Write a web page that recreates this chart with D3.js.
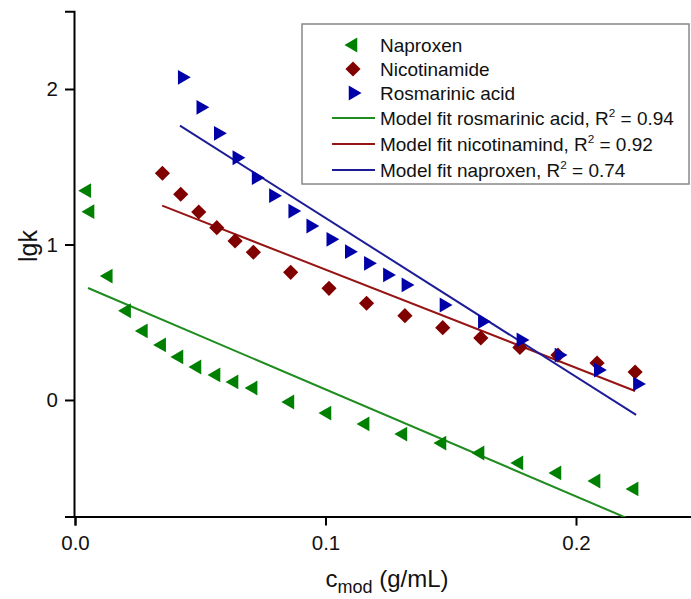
<!DOCTYPE html>
<html>
<head>
<meta charset="utf-8">
<script src="https://cdn.jsdelivr.net/npm/d3@7"></script>
<style>
  html, body { margin: 0; padding: 0; background: #fff; }
  svg { display: block; font-family: "Liberation Sans", Arial, sans-serif; }
</style>
</head>
<body>
<svg id="chart" width="691" height="599"></svg>
<script>
// ---- Data ----
const naproxenX = [0.0047, 0.0060, 0.0133, 0.0206, 0.0273, 0.0346, 0.0415, 0.0487, 0.0563, 0.0635, 0.0711, 0.0858, 0.1006, 0.1158, 0.1309, 0.1465, 0.1617, 0.1772, 0.1924, 0.2080, 0.2232];
const naproxenY = [1.346, 1.211, 0.797, 0.574, 0.444, 0.354, 0.277, 0.212, 0.161, 0.116, 0.077, -0.013, -0.084, -0.154, -0.219, -0.277, -0.341, -0.405, -0.469, -0.521, -0.572];

const nicotinamideX = [0.0349, 0.0422, 0.0494, 0.0566, 0.0639, 0.0712, 0.0861, 0.1014, 0.1164, 0.1317, 0.1468, 0.1620, 0.1776, 0.1928, 0.2084, 0.2236];
const nicotinamideY = [1.458, 1.323, 1.209, 1.108, 1.023, 0.950, 0.821, 0.718, 0.622, 0.542, 0.465, 0.399, 0.338, 0.289, 0.238, 0.180];

const rosmarinicX = [0.0428, 0.0502, 0.0572, 0.0646, 0.0723, 0.0792, 0.0869, 0.0941, 0.1021, 0.1095, 0.1171, 0.1247, 0.1321, 0.1473, 0.1626, 0.1780, 0.1932, 0.2089, 0.2245];
const rosmarinicY = [2.075, 1.882, 1.715, 1.558, 1.430, 1.314, 1.215, 1.119, 1.033, 0.954, 0.879, 0.804, 0.740, 0.611, 0.504, 0.386, 0.289, 0.193, 0.103];

// fitted line end points [x, y]
const fitGreen = [[0.0052, 0.720], [0.2240, -0.785]];
const fitRed   = [[0.0348, 1.250], [0.2236, 0.058]];
const fitBlue  = [[0.0419, 1.764], [0.2240, -0.096]];

const xTicks = [0.0, 0.1, 0.2];
const yTicks = [0, 1, 2];

const legendMarkers = ["Naproxen", "Nicotinamide", "Rosmarinic acid"];
const legendLines = [
  { label: "Model fit rosmarinic acid, R", r2: "0.94" },
  { label: "Model fit nicotinamind, R", r2: "0.92" },
  { label: "Model fit naproxen, R", r2: "0.74" }
];

// ---- Layout ----
const svg = d3.select("#chart");
const x = d3.scaleLinear().domain([0, 0.25]).range([75, 75 + 0.25 * 2505]);
const y = d3.scaleLinear().domain([-0.75, 2.5]).range([516.6, 11.25]);

const C = {
  green: "#008000", greenLine: "#1e8c1e",
  red: "#800000", redLine: "#961414",
  blue: "#0000a8", blueLine: "#1c1c96"
};

svg.append("defs").append("clipPath").attr("id", "plotclip")
  .append("rect").attr("x", 75).attr("y", 11).attr("width", 620).attr("height", 506);

// axes
const xAxis = d3.axisBottom(x).tickValues(xTicks).tickFormat(d3.format(".1f")).tickSizeOuter(0).tickSize(9).tickPadding(6);
const yAxis = d3.axisLeft(y).tickValues(yTicks).tickFormat(d3.format("d")).tickSizeOuter(0).tickSize(9).tickPadding(7);

const gx = svg.append("g").attr("transform", `translate(0,${y(-0.75)})`).call(xAxis);
const gy = svg.append("g").attr("transform", `translate(${x(0) - 1},0)`).call(yAxis);
[gx, gy].forEach(g => {
  g.select(".domain").attr("stroke", "#000").attr("stroke-width", 2);
  g.selectAll(".tick line").attr("stroke", "#000").attr("stroke-width", 2);
  g.selectAll(".tick text").attr("fill", "#111").style("font-size", "20.5px").style("font-family", "Liberation Sans, Arial, sans-serif");
});
gx.selectAll(".tick text").attr("dy", "0.9em");

// axis titles
const xt = svg.append("text").attr("x", 387).attr("y", 587).attr("text-anchor", "middle")
  .style("font-size", "24px").attr("fill", "#111");
xt.append("tspan").text("c");
xt.append("tspan").attr("dy", 6).style("font-size", "18px").text("mod");
xt.append("tspan").attr("dy", -6).text(" (g/mL)");

svg.append("text").attr("transform", "translate(37,246) rotate(-90)").attr("text-anchor", "middle")
  .style("font-size", "25px").attr("fill", "#111").text("lgk");

// fit lines
const line = d3.line().x(d => x(d[0])).y(d => y(d[1]));
const plot = svg.append("g").attr("clip-path", "url(#plotclip)");
[[fitGreen, C.greenLine], [fitRed, C.redLine], [fitBlue, C.blueLine]].forEach(([pts, col]) => {
  plot.append("path").attr("d", line(pts)).attr("fill", "none").attr("stroke", col).attr("stroke-width", 2);
});

// markers
const tri = d3.symbol(d3.symbolTriangle, 95)();
const dia = d3.symbol(d3.symbolSquare, 115)();

svg.append("g").selectAll("path").data(d3.zip(naproxenX, naproxenY)).join("path")
  .attr("d", tri).attr("fill", C.green)
  .attr("transform", d => `translate(${x(d[0])},${y(d[1])}) rotate(-90)`);

svg.append("g").selectAll("path").data(d3.zip(nicotinamideX, nicotinamideY)).join("path")
  .attr("d", dia).attr("fill", C.red)
  .attr("transform", d => `translate(${x(d[0])},${y(d[1])}) rotate(45)`);

svg.append("g").selectAll("path").data(d3.zip(rosmarinicX, rosmarinicY)).join("path")
  .attr("d", tri).attr("fill", C.blue)
  .attr("transform", d => `translate(${x(d[0])},${y(d[1])}) rotate(90)`);

// legend
const lg = svg.append("g");
lg.append("rect").attr("x", 302).attr("y", 24).attr("width", 387).attr("height", 160)
  .attr("fill", "#fff").attr("stroke", "#888").attr("stroke-width", 1.5);

const mShapes = [[tri, C.green, -90], [dia, C.red, 45], [tri, C.blue, 90]];
const mRows = [45, 69, 93];
const legendTexts = [];
legendMarkers.forEach((t, i) => {
  lg.append("path").attr("d", mShapes[i][0]).attr("fill", mShapes[i][1])
    .attr("transform", `translate(353,${mRows[i]}) rotate(${mShapes[i][2]})`);
  legendTexts.push(lg.append("text").attr("x", 380).attr("y", mRows[i]).attr("dy", "0.35em")
    .style("font-size", "19px").attr("fill", "#111").text(t));
});
const lRows = [118, 144, 170];
const lCols = [C.greenLine, C.redLine, C.blueLine];
legendLines.forEach((d, i) => {
  lg.append("line").attr("x1", 332).attr("x2", 375).attr("y1", lRows[i]).attr("y2", lRows[i])
    .attr("stroke", lCols[i]).attr("stroke-width", 2);
  const t = lg.append("text").attr("x", 380).attr("y", lRows[i]).attr("dy", "0.35em")
    .style("font-size", "19px").attr("fill", "#111");
  t.append("tspan").text(d.label);
  t.append("tspan").attr("dy", -8).style("font-size", "12px").attr("class", "sup").text("2");
  t.append("tspan").attr("dy", 8).text(" = " + d.r2);
  legendTexts.push(t);
});
// fit legend font so the longest entry spans the same width as in the reference (~296 px)
const w0 = legendTexts[3].node().getComputedTextLength();
const fs = Math.min(20.5, 19 * 294 / w0);
legendTexts.forEach(t => t.style("font-size", fs + "px"));
lg.selectAll(".sup").style("font-size", (fs * 0.62) + "px");
</script>
</body>
</html>
